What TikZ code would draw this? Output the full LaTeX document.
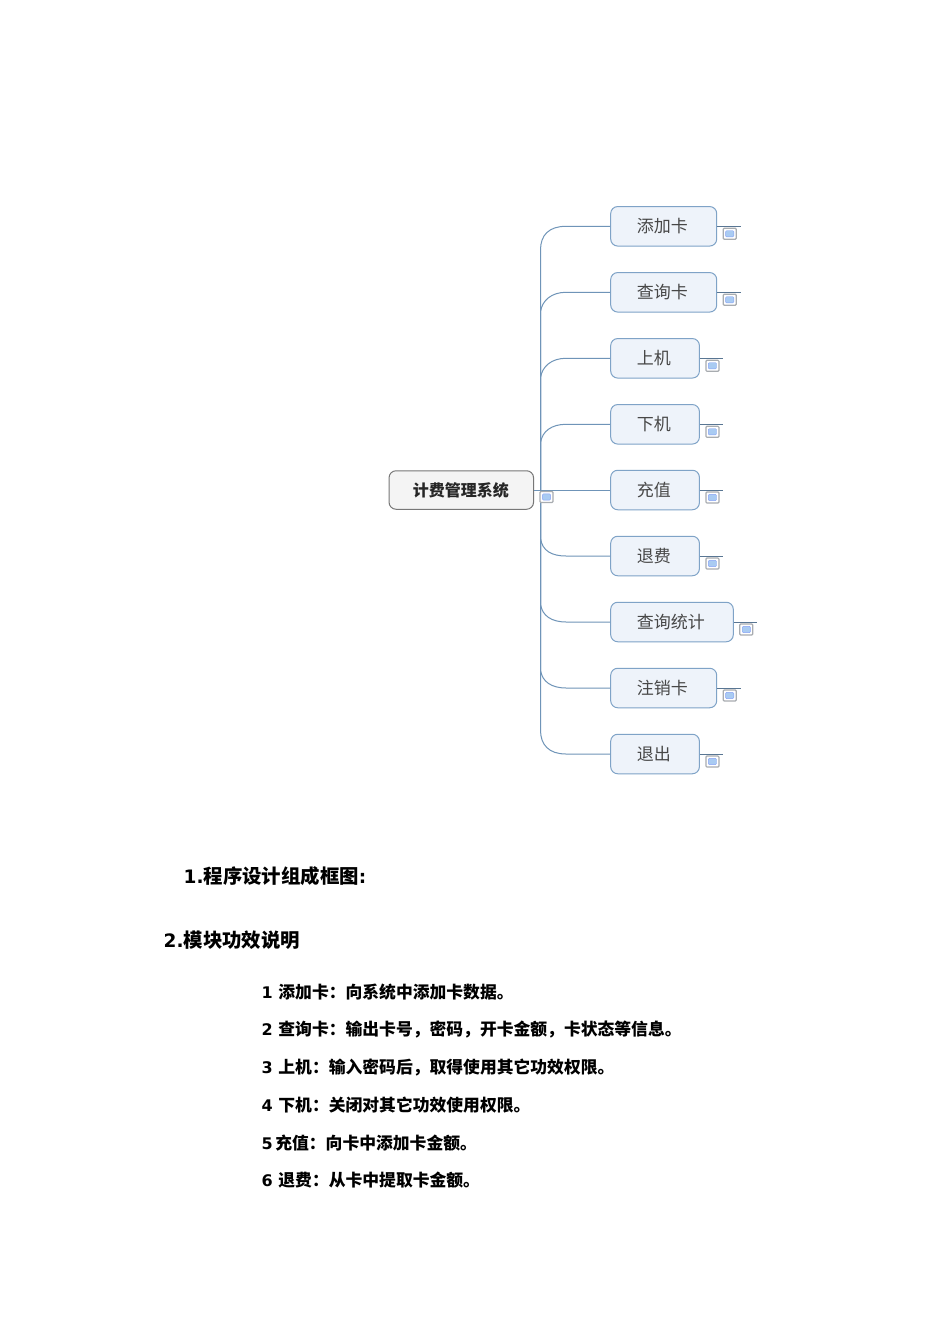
\documentclass[tikz,border=0pt]{standalone}
\usepackage{fontspec}
\setmainfont{DejaVu Sans}
\newfontfamily\cjk{Noto Sans CJK SC}
\definecolor{linkc}{HTML}{6F94B8}
\definecolor{boxfill}{HTML}{EEF3FA}
\definecolor{boxline}{HTML}{7FA3C7}
\definecolor{rootfill}{HTML}{F4F4F4}
\definecolor{rootline}{HTML}{777777}
\definecolor{iconfill}{HTML}{A9CBF2}
\definecolor{iconline}{HTML}{A8ACB0}
\tikzset{
  x=1pt,y=-1pt,
  leaf/.style={draw=boxline,line width=1pt,fill=boxfill,rounded corners=7pt,minimum height=39.5pt,
    anchor=west,inner sep=0pt,text=black!72,font=\cjk\fontsize{17}{17}\selectfont,align=center},
  rootbox/.style={draw=rootline,line width=1pt,fill=rootfill,rounded corners=7pt,minimum height=38.5pt,
    minimum width=144.5pt,inner sep=0pt,font=\cjk\bfseries\fontsize{16}{16}\selectfont,text=black!85},
  link/.style={draw=linkc,line width=1pt},
  stub/.style={draw=linkc!80!black,line width=.8pt},
  icon/.style={draw=iconline,line width=1.2pt,fill=white,rounded corners=1pt,minimum width=13pt,
    minimum height=11pt,inner sep=0pt,path picture={\fill[iconfill,draw=iconfill!80!blue,line width=.4pt] ([xshift=2.4pt,yshift=2.4pt]path picture bounding box.south west) rectangle ([xshift=-2.4pt,yshift=-2.4pt]path picture bounding box.north east);}},
  head/.style={anchor=base west,inner sep=0pt,font=\bfseries\fontsize{18.5}{20}\selectfont,text=black},
  body/.style={anchor=base west,inner sep=0pt,font=\bfseries\fontsize{16}{18}\selectfont,text=black},
}
\newcommand{\zh}[1]{{\cjk\bfseries\fontsize{16.8}{18}\selectfont #1}}
\newcommand{\zhh}[1]{{\cjk\bfseries\fontsize{19.4}{20}\selectfont #1}}
\newcommand{\lbl}[1]{\raisebox{-1.3pt}{#1}\kern2.5pt}
\begin{document}
\begin{tikzpicture}
\useasboundingbox[fill=white] (0,0) rectangle (950,1344);
% root
\node[rootbox] (root) at (461.3,490) {\raisebox{1.2pt}{计费管理系统}\kern1pt};
\coordinate (hub) at (540.5,490);
% leaves
\node[leaf,minimum width=106pt] (a) at (610.2,226.3) {\lbl{添加卡}};
\node[leaf,minimum width=106pt] (b) at (610.2,292.3) {\lbl{查询卡}};
\node[leaf,minimum width=88.7pt] (c) at (610.2,358.3) {\lbl{上机}};
\node[leaf,minimum width=88.7pt] (d) at (610.2,424.3) {\lbl{下机}};
\node[leaf,minimum width=88.7pt] (e) at (610.2,490) {\lbl{充值}};
\node[leaf,minimum width=88.7pt] (f) at (610.2,556) {\lbl{退费}};
\node[leaf,minimum width=122.6pt] (g) at (610.2,622) {\lbl{查询统计}};
\node[leaf,minimum width=106pt] (h) at (610.2,688) {\lbl{注销卡}};
\node[leaf,minimum width=88.7pt] (i) at (610.2,754) {\lbl{退出}};
% connectors
\draw[link] (root.east) -- (e.west);
\draw[link] (a.west) -- (566,226.3) .. controls (549,226.3) and (540.5,235) .. (540.5,250) -- (hub);
\draw[link] (b.west) -- (566,292.3) .. controls (552,292.3) and (542,300) .. (540.5,312) -- (hub);
\draw[link] (c.west) -- (566,358.3) .. controls (552,358.3) and (542,366) .. (540.5,378) -- (hub);
\draw[link] (d.west) -- (566,424.3) .. controls (552,424.3) and (542,431) .. (540.5,443) -- (hub);
\draw[link] (f.west) -- (566,556) .. controls (552,556) and (542,551) .. (540.5,538) -- (hub);
\draw[link] (g.west) -- (566,622) .. controls (552,622) and (542,616) .. (540.5,604) -- (hub);
\draw[link] (h.west) -- (566,688) .. controls (552,688) and (542,682) .. (540.5,670) -- (hub);
\draw[link] (i.west) -- (566,754) .. controls (549,754) and (540.5,745) .. (540.5,730) -- (hub);
% collapse stubs and icons
\foreach \n in {a,b,c,d,e,f,g,h,i}{
  \coordinate (\n s) at ([xshift=23.5pt]\n.east);
  \draw[stub] (\n.east) -- (\n s);
  \node[icon] (\n i) at ([xshift=12.5pt,yshift=-7.5pt]\n.east) {};
}
\node[icon] (rooti) at (546.5,497) {};
% text
\node[head] (t1) at (183.5,883) {1.\zhh{程序设计组成框图}:};
\node[head] (t2) at (163.5,947) {2.\zhh{模块功效说明}};
\node[body] (l1) at (261.5,998) {1 \zh{添加卡：向系统中添加卡数据。}};
\node[body] (l2) at (261.5,1035.5) {2 \zh{查询卡：输出卡号，密码，开卡金额，卡状态等信息。}};
\node[body] (l3) at (261.5,1073) {3 \zh{上机：输入密码后，取得使用其它功效权限。}};
\node[body] (l4) at (261.5,1111) {4 \zh{下机：关闭对其它功效使用权限。}};
\node[body] (l5) at (261.5,1149) {5\kern2.5pt\zh{充值：向卡中添加卡金额。}};
\node[body] (l6) at (261.5,1186) {6 \zh{退费：从卡中提取卡金额。}};
\end{tikzpicture}
\end{document}
